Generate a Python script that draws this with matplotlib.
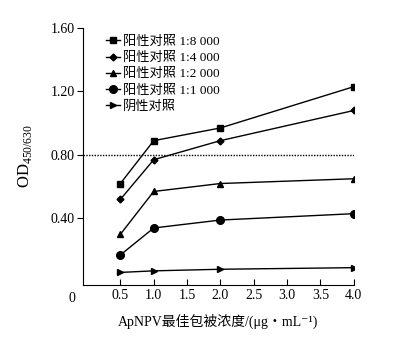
import matplotlib
matplotlib.use("Agg")
import matplotlib.pyplot as plt

plt.rcParams['font.family'] = ['Liberation Serif', 'Noto Sans CJK SC', 'DejaVu Sans']
plt.rcParams['mathtext.fontset'] = 'custom'
plt.rcParams['mathtext.rm'] = 'Liberation Serif'

x = [0.5, 1.0, 2.0, 4.0]
labels = ['阳性对照 1:8 000', '阳性对照 1:4 000', '阳性对照 1:2 000', '阳性对照 1:1 000', '阴性对照']
pos_8000 = [0.62, 0.89, 0.97, 1.23]
pos_4000 = [0.52, 0.77, 0.89, 1.08]
pos_2000 = [0.30, 0.57, 0.62, 0.65]
pos_1000 = [0.17, 0.34, 0.39, 0.43]
neg = [0.06, 0.07, 0.08, 0.09]
series = [pos_8000, pos_4000, pos_2000, pos_1000, neg]
markers = ['s', 'D', '^', 'o', '>']
msizes = [4.5, 3.5, 5, 5.5, 4]
cutoff = 0.80
xticks = [0.5, 1.0, 1.5, 2.0, 2.5, 3.0, 3.5, 4.0]
yticks = [0.40, 0.80, 1.20, 1.60]

fig = plt.figure(figsize=(4.03, 3.49), dpi=100)
ax = fig.add_axes([0.206, 0.183, 0.672, 0.737])

for ys, lab, m, ms in zip(series, labels, markers, msizes):
    ax.plot(x, ys, color='black', marker=m, markersize=ms, linewidth=1.0, label=lab)

ax.axhline(cutoff, color='black', linestyle=(0, (1, 1)), linewidth=1.0)

ax.set_xlim(-0.06, 4.0)
ax.set_ylim(-0.02, 1.6)
ax.spines['top'].set_visible(False)
ax.spines['right'].set_visible(False)
ax.set_xticks(xticks)
ax.set_xticklabels([f'{v:.1f}' for v in xticks], fontsize=10)
ax.set_yticks(yticks)
ax.set_yticklabels([f'{v:.2f}' for v in yticks], fontsize=10)
ax.tick_params(axis='x', direction='in', length=4, pad=3)
ax.tick_params(axis='y', direction='out', length=4, pad=2)
ax.text(-0.03, -0.025, '0', transform=ax.transAxes, ha='right', va='top', fontsize=10)

ax.set_xlabel('ApNPV最佳包被浓度/(μg・mL⁻¹)', fontsize=10, labelpad=8)
ax.set_ylabel('OD$_{450/630}$', fontsize=12, labelpad=12)

leg = ax.legend(loc='upper left', bbox_to_anchor=(0.065, 0.99), frameon=False,
                fontsize=9.5, handlelength=1.1, handletextpad=0.2,
                labelspacing=0.3, borderaxespad=0.0)

fig.savefig('out.png', dpi=100)
